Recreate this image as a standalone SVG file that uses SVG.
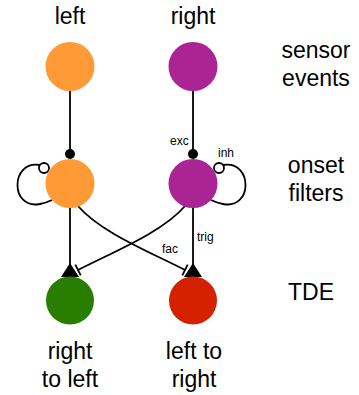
<svg xmlns="http://www.w3.org/2000/svg" width="359" height="395" viewBox="0 0 359 395">
<style>
  .big { font-family: "Liberation Sans", Arial, sans-serif; font-size: 23px; fill: #000; text-anchor: middle; }
  .small { font-family: "Liberation Sans", Arial, sans-serif; font-size: 12px; fill: #000; }
  .edge { fill: none; stroke: #000; stroke-width: 1.8; }
</style>
<rect width="359" height="395" fill="#fff"/>
<g id="connectors">
  <line class="edge" x1="70" y1="91" x2="70" y2="154"/>
  <circle cx="70" cy="154" r="5" fill="#000"/>
  <line class="edge" x1="193" y1="91" x2="193" y2="154"/>
  <circle cx="193" cy="154" r="5" fill="#000"/>
  <text class="small" x="170" y="145">exc</text>
  <path class="edge" d="M 223 165 C 253 160, 253 210, 223 204 C 218 203, 215 202, 211 200"/>
  <circle cx="219" cy="168" r="5" fill="#fff" stroke="#000" stroke-width="1.8"/>
  <text class="small" x="218" y="157">inh</text>
  <path class="edge" d="M 40 165 C 10 160, 10 210, 40 204 C 45 203, 48 202, 52 200"/>
  <circle cx="44" cy="168" r="5" fill="#fff" stroke="#000" stroke-width="1.8"/>
  <line class="edge" x1="70" y1="208" x2="70" y2="266"/>
  <polygon points="70,263 61,277 79,277" fill="#000"/>
  <line class="edge" x1="193" y1="208" x2="193" y2="266"/>
  <polygon points="193,263 184,277 202,277" fill="#000"/>
  <text class="small" x="197" y="241">trig</text>
  <path class="edge" d="M 78 206 C 100 232, 150 252, 185 270"/>
  <line class="edge" x1="182.3" y1="275.3" x2="187.7" y2="264.7"/>
  <path class="edge" d="M 185 206 C 163 232, 113 252, 78 270"/>
  <line class="edge" x1="80.7" y1="275.3" x2="75.3" y2="264.7"/>
  <text class="small" x="162" y="253">fac</text>
</g>
<g id="sensor-left"><circle cx="70" cy="66.5" r="24.5" fill="#FF9A36"/></g>
<g id="sensor-right"><circle cx="193" cy="66.5" r="24.5" fill="#AB2494"/></g>
<g id="onset-left"><circle cx="70" cy="183.5" r="24.5" fill="#FF9A36"/></g>
<g id="onset-right"><circle cx="193" cy="183.5" r="24.5" fill="#AB2494"/></g>
<g id="tde-left"><circle cx="70" cy="300.5" r="24" fill="#277E00"/></g>
<g id="tde-right"><circle cx="193" cy="300.5" r="24" fill="#D42100"/></g>
<g id="labels">
  <text class="big" x="70" y="24">left</text>
  <text class="big" x="193" y="24">right</text>
  <text class="big" x="316" y="58">sensor</text>
  <text class="big" x="316" y="86">events</text>
  <text class="big" x="316" y="173">onset</text>
  <text class="big" x="316" y="201">filters</text>
  <text class="big" x="311" y="300">TDE</text>
  <text class="big" x="70" y="359">right</text>
  <text class="big" x="70" y="387">to left</text>
  <text class="big" x="194" y="359">left to</text>
  <text class="big" x="194" y="387">right</text>
</g>
</svg>
